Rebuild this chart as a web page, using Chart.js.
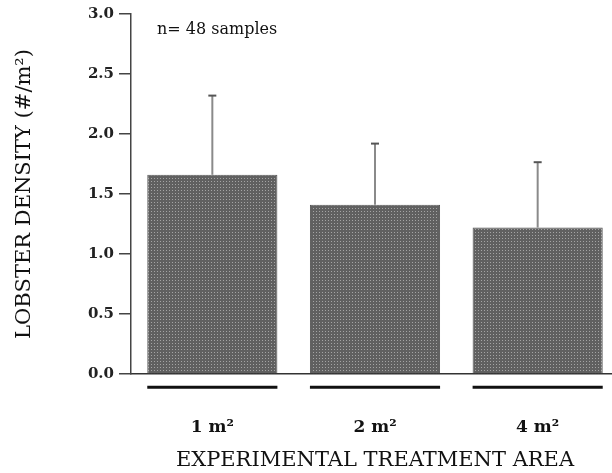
<!DOCTYPE html>
<html>
<head>
<meta charset="utf-8">
<script src="https://cdn.jsdelivr.net/npm/chart.js@4/dist/chart.umd.min.js"></script>
<style>
  html, body { margin: 0; padding: 0; background: #fff; overflow: hidden; }
  #wrap { width: 620px; height: 473px; }
</style>
</head>
<body>
<div id="wrap"><canvas id="c" width="620" height="473"></canvas></div>
<script>
// ---- data ----
const categories = ['1 m²', '2 m²', '4 m²'];
const meanDensity = [1.66, 1.41, 1.22];
const upperError = [2.32, 1.92, 1.765];
const yTicks = [0, 0.5, 1.0, 1.5, 2.0, 2.5, 3.0];
const sampleNote = 'n= 48 samples';

// stippled grey fill like the original print
function makePattern() {
  const p = document.createElement('canvas');
  p.width = 3; p.height = 3;
  const g = p.getContext('2d');
  g.fillStyle = '#606060';
  g.fillRect(0, 0, 3, 3);
  g.fillStyle = '#a4a4a4';
  g.fillRect(1, 1, 1, 1);
  return g.createPattern(p, 'repeat');
}

const extras = {
  id: 'extras',
  afterDatasetsDraw(chart) {
    const ctx = chart.ctx;
    const y = chart.scales.y;
    const meta = chart.getDatasetMeta(0);
    ctx.save();
    meta.data.forEach((bar, i) => {
      const props = bar.getProps(['x', 'width', 'base'], true);
      // upper error bar
      const yTop = y.getPixelForValue(upperError[i]);
      const yMean = y.getPixelForValue(meanDensity[i]);
      ctx.strokeStyle = '#8a8a8a';
      ctx.lineWidth = 2;
      ctx.beginPath();
      ctx.moveTo(props.x, yMean);
      ctx.lineTo(props.x, yTop);
      ctx.stroke();
      ctx.strokeStyle = '#555';
      ctx.beginPath();
      ctx.moveTo(props.x - 4, yTop);
      ctx.lineTo(props.x + 4, yTop);
      ctx.stroke();
      // black underline beneath each bar
      ctx.strokeStyle = '#111';
      ctx.lineWidth = 3;
      ctx.beginPath();
      ctx.moveTo(props.x - props.width / 2, props.base + 14);
      ctx.lineTo(props.x + props.width / 2, props.base + 14);
      ctx.stroke();
    });
    // sample size note
    const area = chart.chartArea;
    ctx.fillStyle = '#111';
    ctx.font = '16px "DejaVu Serif"';
    ctx.textBaseline = 'middle';
    ctx.textAlign = 'left';
    ctx.fillText(sampleNote, area.left + 26, area.top + 16);
    ctx.restore();
  }
};

new Chart(document.getElementById('c'), {
  type: 'bar',
  data: {
    labels: categories,
    datasets: [{
      data: meanDensity,
      backgroundColor: makePattern(),
      borderColor: '#555',
      borderWidth: 1,
      barPercentage: 0.8,
      categoryPercentage: 1.0
    }]
  },
  options: {
    responsive: false,
    animation: false,
    layout: { padding: { top: 10, right: 1, bottom: 0, left: 0 } },
    plugins: { legend: { display: false }, tooltip: { enabled: false } },
    scales: {
      x: {
        grid: { display: false, drawTicks: false },
        border: { display: true, color: '#333', width: 1.5 },
        ticks: {
          padding: 43,
          color: '#111',
          font: { family: 'DejaVu Serif', size: 17, weight: 'bold' }
        },
        title: {
          display: true,
          text: 'EXPERIMENTAL TREATMENT AREA',
          color: '#111',
          font: { family: 'DejaVu Serif', size: 21 },
          padding: { top: 0, bottom: 0 }
        },
        afterFit(scale) { scale.height = 99; }
      },
      y: {
        min: 0,
        max: 3,
        afterBuildTicks(scale) { scale.ticks = yTicks.map(v => ({ value: v })); },
        grid: { drawOnChartArea: false, drawTicks: true, tickLength: 12, tickColor: '#444', lineWidth: 1.5 },
        border: { display: true, color: '#444', width: 1.5 },
        ticks: {
          padding: 5,
          color: '#222',
          font: { family: 'DejaVu Serif', size: 15, weight: 'bold' },
          callback: v => Number(v).toFixed(1)
        },
        title: {
          display: true,
          text: 'LOBSTER DENSITY (#/m²)',
          color: '#111',
          font: { family: 'DejaVu Serif', size: 21 },
          padding: { top: 12, bottom: 0 }
        },
        afterFit(scale) { scale.width = 131; }
      }
    }
  },
  plugins: [extras]
});
</script>
</body>
</html>
